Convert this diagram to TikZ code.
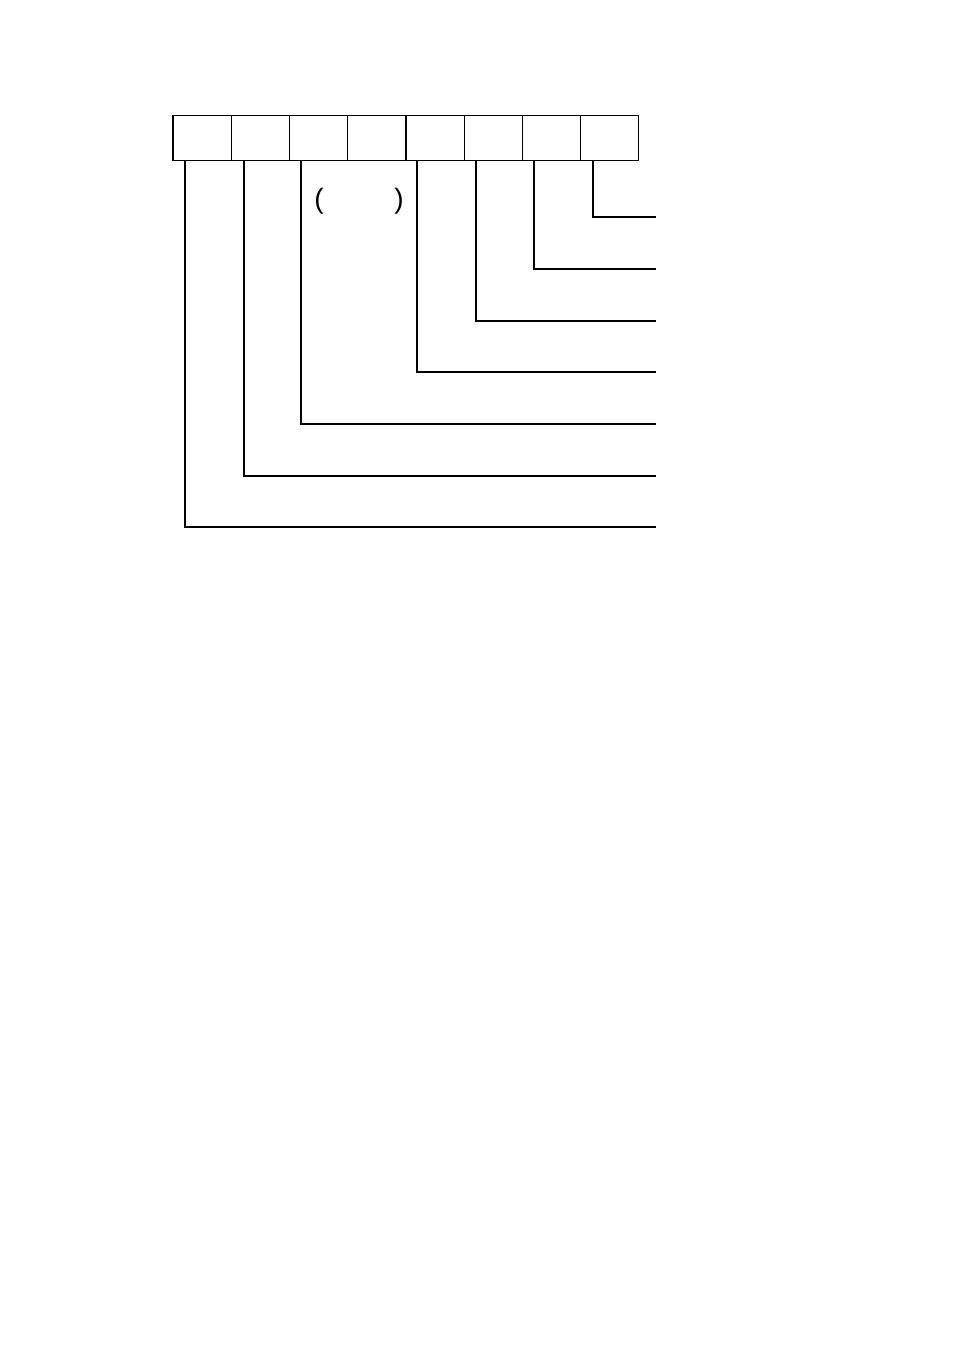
\documentclass[tikz,border=0pt]{standalone}
\usepackage{fontspec}
\setmainfont{Liberation Sans}
\begin{document}
\begin{tikzpicture}[x=0.75pt,y=-0.75pt,
  cell/.style={draw, line width=0.8pt, minimum width=43.5pt, minimum height=33.75pt, inner sep=0pt, anchor=north west},
  thinlead/.style={line width=0.8pt},
  thicklead/.style={line width=1.3pt},
  paren/.style={font=\fontsize{21}{23}\selectfont, inner sep=0pt}]
\useasboundingbox (0,0) rectangle (954,1355);
\fill[white] (0,0) rectangle (954,1355);
% boxes
\foreach \i in {0,...,7} {
  \node[cell] (b\i) at ({173+58.125*\i},115) {};
}
\draw[line width=1.6pt] (b0.north west) -- (b0.south west);
% end coordinates
\foreach \i/\y in {0/527,1/476,2/424,3/372,4/321,5/269,6/217} {
  \coordinate (e\i) at (656,\y);
}
\coordinate (s0) at (185,160);
\coordinate (s1) at (244,160);
\coordinate (s2) at (301,160);
\coordinate (s4) at (417,160);
\coordinate (s5) at (476,160);
\coordinate (s6) at (534,160);
\coordinate (s7) at (593,160);
\draw[thinlead] (s0) |- (e0);
\draw[thicklead] (185,527) -- (e0);
\draw[thinlead] (s1) |- (e1);
\draw[thinlead] (s2) |- (e2);
\draw[thicklead] (s4) |- (e3);
\draw[thicklead] (s5) |- (e4);
\draw[thicklead] (s6) |- (e5);
\draw[thicklead] (s7) |- (e6);
\node[paren] (lp) at (319,201) {(};
\node[paren] (rp) at (399,201) {)};
\end{tikzpicture}
\end{document}
